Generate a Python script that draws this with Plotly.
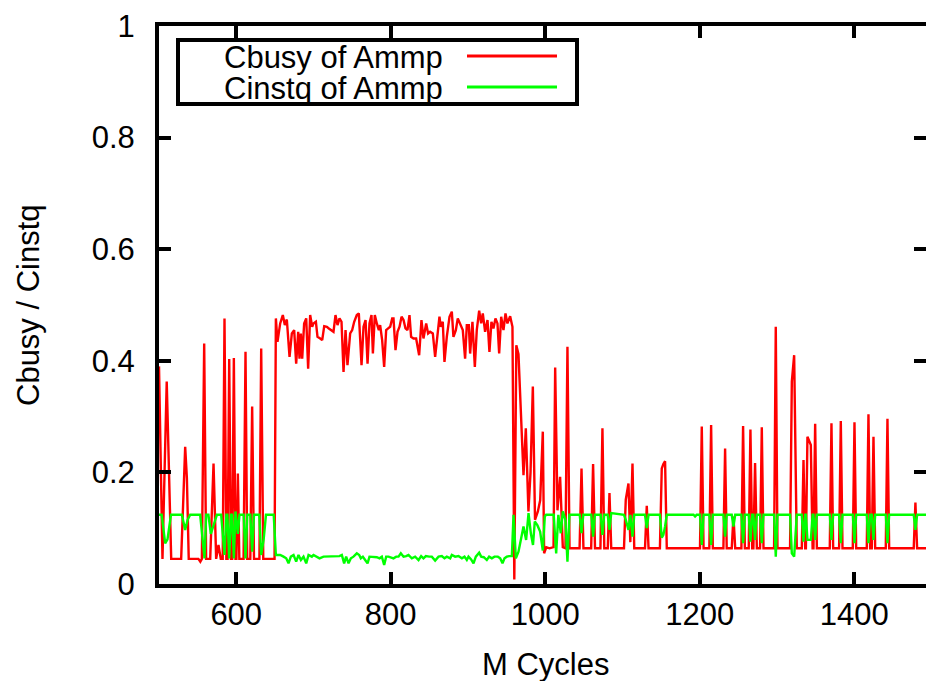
import plotly.graph_objects as go

# ---------------- data ----------------
series_names = ["Cbusy of Ammp", "Cinstq of Ammp"]
y_tick_vals = [0, 0.2, 0.4, 0.6, 0.8, 1]
y_tick_text = ["0", "0.2", "0.4", "0.6", "0.8", "1"]
x_tick_vals = [600, 800, 1000, 1200, 1400]
x_tick_text = ["600", "800", "1000", "1200", "1400"]

cbusy_start = [
    (500, 0.39), (504.5, 0.045), (510, 0.363), (515.8, 0.045), (528.7, 0.045),
    (533.9, 0.246), (536.1, 0.19), (538.5, 0.045), (551, 0.045), (553.5, 0.04),
    (555.5, 0.045), (558.5, 0.431), (561, 0.045), (566.3, 0.045), (570.6, 0.216),
    (574, 0.045), (577, 0.07), (580, 0.045), (582.5, 0.045), (584.8, 0.476),
    (587.2, 0.045), (588.8, 0.045), (590.9, 0.403), (593.2, 0.045), (594.8, 0.045),
    (596.9, 0.405), (599, 0.045), (600.2, 0.045), (602.1, 0.198), (604, 0.045),
    (609.5, 0.045), (612, 0.416), (614.2, 0.045), (618.2, 0.045), (620.6, 0.318),
    (623, 0.045), (630, 0.045), (632.3, 0.422), (635, 0.045), (649.6, 0.045),
]
cbusy_plateau = [
    (651.3, 0.476), (653.4, 0.434), (656.9, 0.467), (660.3, 0.482), (662.9, 0.464),
    (665.5, 0.474), (669.0, 0.407), (672.0, 0.449), (675.0, 0.455), (677.6, 0.395),
    (680.2, 0.452), (681.9, 0.404), (683.6, 0.449), (685.4, 0.404), (687.9, 0.467),
    (690.6, 0.476), (693.1, 0.386), (695.7, 0.482), (698.3, 0.461), (700.0, 0.467),
    (703.1, 0.470), (705.2, 0.443), (708.7, 0.440), (711.3, 0.437), (713.9, 0.462),
    (717.3, 0.461), (719.9, 0.458), (722.5, 0.455), (725.9, 0.452), (728.5, 0.482),
    (731.1, 0.464), (733.7, 0.476), (736.3, 0.470), (738.9, 0.380), (741.5, 0.455),
    (744.0, 0.392), (747.5, 0.449), (750.1, 0.455), (752.7, 0.470), (756.1, 0.482),
    (758.7, 0.485), (762.2, 0.392), (764.8, 0.461), (767.4, 0.473), (770.0, 0.395),
    (772.5, 0.467), (775.1, 0.482), (776.9, 0.413), (779.4, 0.482), (782.0, 0.467),
    (784.6, 0.455), (786.3, 0.464), (788.9, 0.437), (791.5, 0.389), (794.1, 0.455),
    (796.7, 0.458), (799.3, 0.461), (801.9, 0.476), (803.6, 0.476), (806.2, 0.419),
    (808.8, 0.452), (811.4, 0.461), (814.0, 0.479), (816.6, 0.473), (819.1, 0.458),
    (821.7, 0.455), (824.3, 0.482), (826.4, 0.443), (829.5, 0.440), (832.9, 0.440),
    (836.8, 0.410), (839.8, 0.473), (842.4, 0.440), (845.9, 0.467), (848.4, 0.449),
    (851.0, 0.452), (854.5, 0.449), (857.5, 0.407), (860.5, 0.449), (863.1, 0.479),
    (864.8, 0.461), (867.4, 0.470), (869.6, 0.398), (872.6, 0.443), (876.1, 0.479),
    (879.1, 0.488), (881.2, 0.443), (884.3, 0.455), (886.8, 0.476), (889.9, 0.467),
    (893.3, 0.455), (896.3, 0.404), (898.5, 0.464), (901.1, 0.464), (902.8, 0.413),
    (905.8, 0.470), (908.9, 0.389), (911.4, 0.455), (914.5, 0.490), (917.1, 0.467),
    (919.2, 0.485), (922.2, 0.452), (925.3, 0.473), (927.8, 0.416), (930.4, 0.470),
    (933.0, 0.458), (935.6, 0.476), (938.2, 0.467), (940.4, 0.413), (943.0, 0.479),
    (946.0, 0.455), (948.6, 0.485), (951.1, 0.467), (954.6, 0.480), (957.6, 0.461),
]
cbusy_tail = [
    (960.0, 0.008), (962.6, 0.428), (965.4, 0.412), (968.5, 0.30), (971.9, 0.195),
    (974.9, 0.279), (978.3, 0.130), (981.0, 0.20), (984.0, 0.354), (986.8, 0.115),
    (990.5, 0.13), (993.5, 0.15), (996.9, 0.273), (998.6, 0.055), (1001.5, 0.066),
    (1005.5, 0.064), (1009, 0.066), (1010.8, 0.066), (1012.9, 0.388), (1015.9, 0.132),
    (1019.3, 0.192), (1022.8, 0.066), (1026.2, 0.064), (1028.8, 0.425), (1031.5, 0.064),
    (1044.5, 0.064), (1047, 0.207), (1049.5, 0.064), (1059.5, 0.064), (1062, 0.215),
    (1064.5, 0.064), (1071.5, 0.064), (1074.1, 0.279), (1076.5, 0.064), (1081, 0.064),
    (1083.2, 0.163), (1085.5, 0.064), (1102, 0.064), (1104.3, 0.151), (1107.8, 0.180),
    (1110.2, 0.075), (1113, 0.216), (1115.3, 0.064), (1129.2, 0.064), (1131.5, 0.140),
    (1133.8, 0.064), (1148.5, 0.064), (1150.9, 0.207), (1153, 0.215), (1155.2, 0.22),
    (1157.4, 0.064), (1200.4, 0.064), (1202.7, 0.282), (1205, 0.064), (1212.5, 0.064),
    (1214.8, 0.285), (1217, 0.064), (1230.7, 0.064), (1232.9, 0.243), (1235, 0.064),
    (1241.5, 0.064), (1243.7, 0.121), (1246, 0.064), (1254, 0.064), (1256.2, 0.283),
    (1258.5, 0.064), (1263.5, 0.064), (1265.7, 0.277), (1268, 0.064), (1269.5, 0.064),
    (1271.7, 0.217), (1274, 0.064), (1278.2, 0.064), (1280.4, 0.281), (1282.6, 0.064),
    (1296.3, 0.064), (1298.5, 0.461), (1300.7, 0.064), (1317, 0.064), (1319.3, 0.363),
    (1322.3, 0.410), (1325.7, 0.064), (1332.2, 0.064), (1334.4, 0.222), (1336.6, 0.064),
    (1337.5, 0.064), (1339.5, 0.264), (1343.9, 0.249), (1346.2, 0.064), (1347.3, 0.064),
    (1349.5, 0.287), (1351.7, 0.064), (1368.4, 0.064), (1370.6, 0.288), (1372.8, 0.064),
    (1380.5, 0.064), (1382.7, 0.292), (1384.9, 0.064), (1398.2, 0.064), (1400.4, 0.290),
    (1402.6, 0.064), (1416.3, 0.064), (1418.5, 0.304), (1420.7, 0.064), (1422.8, 0.064),
    (1425, 0.264), (1427.2, 0.064), (1440.9, 0.064), (1443.1, 0.296), (1445.3, 0.064),
    (1477.1, 0.064), (1479.3, 0.146), (1481.5, 0.064), (1493, 0.064),
]

cinstq_start = [
    (500, 0.124), (503.5, 0.124), (508, 0.073), (511, 0.08), (515.5, 0.124),
    (529.6, 0.124), (533.9, 0.097), (537, 0.115), (540.4, 0.124), (553.3, 0.124),
    (558.9, 0.046), (561.1, 0.124), (564, 0.124), (567.1, 0.09), (570.6, 0.105),
    (574.9, 0.124), (580.5, 0.124), (584.8, 0.052), (587.2, 0.124), (588.5, 0.124),
    (590.9, 0.046), (593.2, 0.124), (594.5, 0.124), (596.9, 0.046), (599, 0.13),
    (602.1, 0.09), (604.2, 0.124), (609.6, 0.124), (612, 0.046), (614.3, 0.124),
    (618.2, 0.124), (620.6, 0.058), (623, 0.124), (629.8, 0.124), (632.3, 0.052),
    (635.5, 0.08), (638.5, 0.124), (648.5, 0.124),
]
cinstq_plateau = [
    (651.3, 0.052), (656.9, 0.052), (661.2, 0.049), (664.7, 0.046), (667.7, 0.037),
    (670.7, 0.049), (674.2, 0.052), (677.6, 0.040), (680.6, 0.052), (683.7, 0.043),
    (687.1, 0.049), (690.6, 0.037), (693.6, 0.052), (697.9, 0.049), (700.0, 0.052),
    (704.4, 0.049), (707.8, 0.046), (713.0, 0.049), (719.5, 0.049), (725.9, 0.050),
    (733.7, 0.050), (736.7, 0.052), (739.7, 0.037), (742.3, 0.049), (745.4, 0.037),
    (748.4, 0.046), (751.8, 0.049), (756.1, 0.055), (759.2, 0.052), (761.3, 0.046),
    (763.9, 0.049), (766.9, 0.043), (770.0, 0.037), (772.5, 0.049), (775.6, 0.049),
    (778.6, 0.049), (782.0, 0.048), (785.5, 0.046), (788.5, 0.049), (791.5, 0.034),
    (794.1, 0.049), (797.1, 0.049), (800.6, 0.048), (803.6, 0.046), (807.1, 0.049),
    (810.1, 0.049), (813.1, 0.055), (816.6, 0.049), (820.0, 0.050), (823.0, 0.052),
    (827.3, 0.046), (831.6, 0.049), (836.0, 0.043), (839.4, 0.050), (842.4, 0.046),
    (845.5, 0.050), (849.8, 0.049), (853.2, 0.049), (857.5, 0.042), (861.9, 0.049),
    (866.2, 0.050), (869.6, 0.046), (872.6, 0.049), (877.0, 0.046), (879.1, 0.052),
    (883.4, 0.049), (887.7, 0.050), (892.1, 0.046), (895.5, 0.049), (898.5, 0.043),
    (900.7, 0.049), (904.1, 0.044), (907.2, 0.037), (910.2, 0.049), (914.5, 0.056),
    (917.1, 0.049), (920.5, 0.048), (924.4, 0.043), (927.4, 0.049), (930.9, 0.046),
    (934.3, 0.049), (938.7, 0.049), (941.7, 0.046), (944.7, 0.037), (947.3, 0.046),
    (950.3, 0.049), (953.3, 0.050), (956.8, 0.050),
]
cinstq_tail = [
    (959.0, 0.124), (962.0, 0.046), (965.4, 0.058), (968.9, 0.079), (971.9, 0.103),
    (975.3, 0.079), (978.4, 0.127), (981.5, 0.09), (984.2, 0.070), (986.5, 0.112),
    (990, 0.105), (993.4, 0.094), (996.9, 0.060), (999.5, 0.121), (1001.2, 0.124),
    (1011, 0.124), (1014.2, 0.055), (1017, 0.124), (1020.2, 0.091), (1022.8, 0.13),
    (1026.2, 0.115), (1028.8, 0.040), (1031.4, 0.124), (1044.7, 0.124), (1047, 0.091),
    (1049.3, 0.124), (1059.7, 0.124), (1062, 0.085), (1064.3, 0.124), (1071.8, 0.124),
    (1074.1, 0.088), (1076.4, 0.124), (1080.9, 0.124), (1083.2, 0.097), (1085.5, 0.127),
    (1102, 0.124), (1104.3, 0.115), (1107.8, 0.097), (1110.2, 0.124), (1113, 0.085),
    (1115.3, 0.124), (1129.2, 0.124), (1131.5, 0.100), (1133.8, 0.124), (1148.5, 0.124),
    (1150.9, 0.083), (1153, 0.088), (1155.2, 0.103), (1157.4, 0.124), (1192, 0.124),
    (1194, 0.121), (1196, 0.124), (1200.4, 0.124), (1202.7, 0.070), (1205, 0.124),
    (1212.5, 0.124), (1214.8, 0.070), (1217, 0.124), (1230.7, 0.124), (1232.9, 0.085),
    (1235, 0.124), (1241.5, 0.124), (1243.7, 0.103), (1246, 0.124), (1254, 0.124),
    (1256.2, 0.073), (1258.5, 0.124), (1263.5, 0.124), (1265.7, 0.076), (1268, 0.124),
    (1269.5, 0.124), (1271.7, 0.079), (1274, 0.124), (1278.2, 0.124), (1280.4, 0.073),
    (1282.6, 0.124), (1296.3, 0.124), (1298.5, 0.049), (1300.7, 0.124), (1317, 0.124),
    (1319.3, 0.055), (1322.3, 0.049), (1325.7, 0.124), (1332.2, 0.124), (1334.4, 0.076),
    (1336.6, 0.124), (1337.5, 0.124), (1339.5, 0.079), (1343.9, 0.079), (1346.2, 0.124),
    (1347.3, 0.124), (1349.5, 0.079), (1351.7, 0.124), (1368.4, 0.124), (1370.6, 0.079),
    (1372.8, 0.124), (1380.5, 0.124), (1382.7, 0.073), (1384.9, 0.124), (1398.2, 0.124),
    (1400.4, 0.073), (1402.6, 0.124), (1416.3, 0.124), (1418.5, 0.073), (1420.7, 0.124),
    (1422.8, 0.124), (1425, 0.079), (1427.2, 0.124), (1440.9, 0.124), (1443.1, 0.073),
    (1445.3, 0.124), (1477.1, 0.124), (1479.3, 0.097), (1481.5, 0.124), (1493, 0.124),
]

cbusy = cbusy_start + cbusy_plateau + cbusy_tail
cinstq = cinstq_start + cinstq_plateau + cinstq_tail

# ---------------- figure ----------------
W, H = 926, 681
L, R, T, B = 159, 0, 26, 97
FONT = "Liberation Sans, Arial, Helvetica, sans-serif"
FS = 31
pw, ph = W - L - R, H - T - B


def px(xp):
    return (xp - L) / pw


def py(yp):
    return (H - B - yp) / ph


fig = go.Figure()
fig.add_trace(go.Scatter(
    x=[p[0] for p in cbusy], y=[p[1] for p in cbusy], mode="lines",
    name=series_names[0], line=dict(color="#ff0000", width=2.4), showlegend=False,
))
fig.add_trace(go.Scatter(
    x=[p[0] for p in cinstq], y=[p[1] for p in cinstq], mode="lines",
    name=series_names[1], line=dict(color="#00ff00", width=2.4), showlegend=False,
))
# empty trace to bring up mirrored (top / right) tick axes
fig.add_trace(go.Scatter(x=[], y=[], xaxis="x2", yaxis="y2", showlegend=False,
                         hoverinfo="skip"))

xr = [500, 1493]
yr = [0, 1]
common_tick = dict(ticks="inside", ticklen=12, tickwidth=3.5, tickcolor="black",
                   showgrid=False, zeroline=False)

fig.update_layout(
    width=W, height=H,
    margin=dict(l=L, r=R, t=T, b=B, pad=0),
    paper_bgcolor="white", plot_bgcolor="white",
    font=dict(family=FONT, size=FS, color="black"),
    xaxis=dict(range=xr, tickvals=x_tick_vals, ticktext=x_tick_text,
               showline=True, linewidth=4, linecolor="black",
               ticklabelstandoff=0, **common_tick),
    yaxis=dict(range=yr, tickvals=y_tick_vals, ticktext=y_tick_text,
               showline=True, linewidth=4, linecolor="black",
               ticklabelstandoff=14, **common_tick),
    xaxis2=dict(range=xr, tickvals=x_tick_vals, overlaying="x", side="top",
                anchor="y", showticklabels=False, showline=True, linewidth=4,
                linecolor="black", **common_tick),
    yaxis2=dict(range=yr, tickvals=y_tick_vals, overlaying="y", side="right",
                anchor="x", showticklabels=False, showline=False, **common_tick),
    showlegend=False,
)

# axis titles
fig.add_annotation(text="M Cycles", xref="paper", yref="paper", x=px(545), y=py(664),
                   xanchor="center", yanchor="middle", showarrow=False,
                   font=dict(family=FONT, size=FS, color="black"))
fig.add_annotation(text="Cbusy / Cinstq", xref="paper", yref="paper", x=px(28), y=0.5,
                   xanchor="center", yanchor="middle", textangle=-90, showarrow=False,
                   font=dict(family=FONT, size=FS, color="black"))

# key box (gnuplot style: text, then line sample)
fig.add_shape(type="rect", xref="paper", yref="paper",
              x0=px(178), x1=px(577), y0=py(104), y1=py(40),
              line=dict(color="black", width=4), fillcolor="white", layer="above")
key_colors = ["#ff0000", "#00ff00"]
key_rows = [57, 88]
for name, col, row in zip(series_names, key_colors, key_rows):
    fig.add_annotation(text=name, xref="paper", yref="paper", x=px(445), y=py(row),
                       xanchor="right", yanchor="middle", showarrow=False,
                       font=dict(family=FONT, size=FS, color="black"))
    fig.add_shape(type="line", xref="paper", yref="paper", x0=px(467), x1=px(557),
                  y0=py(row - 1), y1=py(row - 1), line=dict(color=col, width=3),
                  layer="above")

fig.write_html("out.html")
